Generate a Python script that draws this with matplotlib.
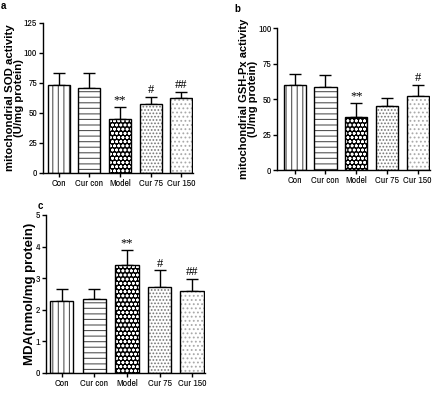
import matplotlib
matplotlib.use("Agg")
import matplotlib.pyplot as plt
from matplotlib import font_manager as fm

# pick a narrow/condensed sans for tick labels if one is installed
narrow_prop = None
for f in fm.fontManager.ttflist:
    if ('Narrow' in f.name or 'Condensed' in f.name) and f.weight in (400, 'normal', 'regular'):
        narrow_prop = dict(family=f.name)
        break
if narrow_prop is None:
    for f in fm.fontManager.ttflist:
        if f.stretch in ('condensed', 'semi-condensed', 'extra-condensed') and 'Sans' in f.name:
            narrow_prop = dict(family=f.name, stretch=f.stretch)
            break
if narrow_prop is None:
    narrow_prop = dict(family='Liberation Sans')
    tick_fs = 6.0
else:
    tick_fs = 7.0

categories = ["Con", "Cur con", "Model", "Cur 75", "Cur 150"]

sod_mean = [73, 71, 45, 57, 62]
sod_err = [10, 12, 10, 6.5, 5.5]
sod_sig = ["", "", "**", "#", "##"]

gsh_mean = [60, 58.5, 37.5, 45.5, 52.5]
gsh_err = [7.5, 8.5, 10, 5.5, 7.5]
gsh_sig = ["", "", "**", "", "#"]

mda_mean = [2.27, 2.33, 3.42, 2.73, 2.58]
mda_err = [0.40, 0.34, 0.48, 0.52, 0.39]
mda_sig = ["", "", "**", "#", "##"]

plt.rcParams['hatch.linewidth'] = 0.8
fig = plt.figure(figsize=(4.47, 3.93), dpi=100)


def panel(rect, means, errs, sigs, ylim, yticks, ylabel, xlim, sigoff,
          label_fs, label_x):
    ax = fig.add_axes(rect)
    x = list(range(len(categories)))
    styles = [
        dict(face='white', hatch='|||', hc='#555555'),
        dict(face='white', hatch='---', hc='#555555'),
        dict(face='black', hatch='oooo', hc='white'),
        dict(face='white', hatch='.....', hc='#777777'),
        dict(face='white', hatch='....', hc='#aaaaaa'),
    ]
    for i, (m, e) in enumerate(zip(means, errs)):
        st = styles[i]
        ax.bar(x[i], m, width=0.72, color=st['face'], edgecolor=st['hc'],
               hatch=st['hatch'], linewidth=0, zorder=2)
        ax.bar(x[i], m, width=0.72, fill=False, edgecolor='black',
               linewidth=1.0, zorder=3)
        ax.errorbar(x[i], m, yerr=[[0], [e]], fmt='none', ecolor='black',
                    elinewidth=1.0, capsize=4.5, capthick=1.0, zorder=1)
        if sigs[i]:
            ax.text(x[i], m + e + sigoff, sigs[i], ha='center', va='bottom',
                    fontsize=9, family='Liberation Serif')
    ax.set_xlim(*xlim)
    ax.set_ylim(*ylim)
    ax.set_yticks(yticks)
    ax.set_xticks(x)
    ax.set_xticklabels(categories, fontsize=tick_fs, **narrow_prop)
    for lab in ax.get_yticklabels():
        lab.set_fontsize(tick_fs)
        lab.set_family(narrow_prop['family'])
        if 'stretch' in narrow_prop:
            lab.set_stretch(narrow_prop['stretch'])
    ax.spines['top'].set_visible(False)
    ax.spines['right'].set_visible(False)
    ax.spines['left'].set_linewidth(1.0)
    ax.spines['bottom'].set_linewidth(1.0)
    ax.tick_params(axis='both', direction='out', length=3, width=1.0, pad=1.2)
    ax.set_ylabel(ylabel, fontsize=label_fs, fontweight='bold',
                  family='Liberation Sans', linespacing=0.9)
    ax.yaxis.set_label_coords(label_x, 0.5)
    return ax


panel([0.096, 0.560, 0.336, 0.382], sod_mean, sod_err, sod_sig, (0, 125),
      [0, 25, 50, 75, 100, 125],
      "mitochondrial SOD activity\n(U/mg protein)", (-0.52, 4.39), 0.5,
      8.2, -0.125)
panel([0.620, 0.567, 0.342, 0.361], gsh_mean, gsh_err, gsh_sig, (0, 100),
      [0, 25, 50, 75, 100],
      "mitochondrial GSH-Px activity\n(U/mg protein)", (-0.57, 4.4), 0.5,
      8.0, -0.125)
panel([0.103, 0.051, 0.356, 0.402], mda_mean, mda_err, mda_sig, (0, 5),
      [0, 1, 2, 3, 4, 5],
      "MDA(nmol/mg protein)", (-0.48, 4.4), 0.02,
      9.5, -0.065)

fig.text(1 / 447, 1 - 9 / 393, "a", fontsize=7, fontweight='bold', family='Liberation Sans')
fig.text(234 / 447, 1 - 12 / 393, "b", fontsize=7, fontweight='bold', family='Liberation Sans')
fig.text(38 / 447, 1 - 209 / 393, "c", fontsize=7, fontweight='bold', family='Liberation Sans')

fig.savefig("out.png", dpi=100)
